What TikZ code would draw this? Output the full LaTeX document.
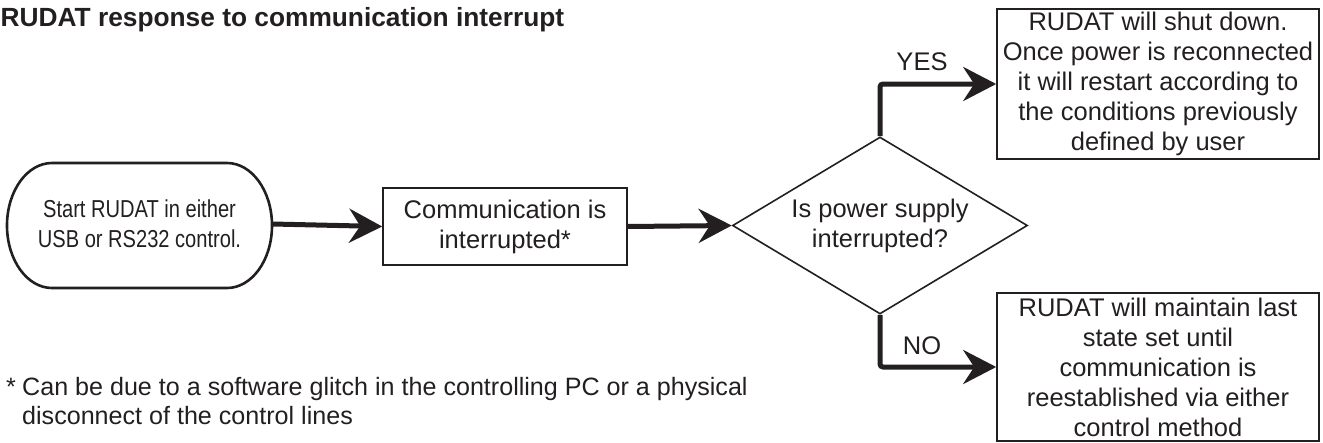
\documentclass[tikz,border=0pt]{standalone}
\usepackage{fontspec}
\setmainfont{Liberation Sans}
\newfontfamily\narrowfont[FakeStretch=0.82]{Liberation Sans}
\usetikzlibrary{arrows.meta,shapes.geometric}
\definecolor{ink}{RGB}{35,31,32}
\begin{document}
\begin{tikzpicture}[x=1pt,y=-1pt,
  txt/.style={font=\fontsize{25.5}{30}\selectfont, text=ink, align=center, inner sep=0pt},
  notetxt/.style={txt, font=\fontsize{25.1}{30}\selectfont},
  procbox/.style={draw=ink, line width=1.6pt, txt},
  flow/.style={draw=ink, line width=5pt, -{Stealth[length=33pt,width=34pt,inset=11pt]}, rounded corners=3pt},
]
\useasboundingbox (0,0) rectangle (1323,442);
% title
\node[font=\bfseries\fontsize{26.3}{30}\selectfont, text=ink, anchor=base west, inner sep=0pt] (title) at (0.5,26) {RUDAT response to communication interrupt};
% start terminal
\node[txt, font=\narrowfont\fontsize{24.5}{30}\selectfont, minimum width=265pt, minimum height=125pt] (start) at (139.5,224) {Start RUDAT in either\\USB or RS232 control.};
\draw[ink, line width=2.6pt] (52,163) -- (227,163)
  arc[start angle=-90, end angle=90, x radius=45, y radius=62.5]
  -- (52,288)
  arc[start angle=90, end angle=270, x radius=45, y radius=62.5] -- cycle;
% process
\node[procbox, minimum width=244pt, minimum height=77pt] (comm) at (505,226.5) {Communication is\\interrupted*};
% decision
\node[draw=ink, line width=1.6pt, shape=diamond, minimum width=295pt, minimum height=177pt, inner sep=0pt] (dec) at (880,225.5) {};
\node[txt] (dectext) at (dec.center) {Is power supply\\interrupted?};
% outcome boxes
\node[procbox, minimum width=322pt, minimum height=150pt] (yesbox) at (1158,84) {RUDAT will shut down.\\Once power is reconnected\\it will restart according to\\the conditions previously\\defined by user};
\node[procbox, minimum width=322pt, minimum height=148pt] (nobox) at (1158,367) {RUDAT will maintain last\\state set until\\communication is\\reestablished via either\\control method};
% labels
\node[txt] (yes) at (922,62) {YES};
\node[txt] (no) at (922,346) {NO};
% connectors
\draw[flow] (start.east) -- (comm.west);
\draw[flow] (comm.east) -- (dec.west);
\draw[flow] (dec.north) |- (yesbox.west);
\draw[flow] (dec.south) |- (nobox.west);
% footnote
\node[notetxt, anchor=base west] (star) at (6,395) {*};
\node[notetxt, anchor=base west] (note1) at (22,395) {Can be due to a software glitch in the controlling PC or a physical};
\node[notetxt, anchor=base west] (note2) at (22,424) {disconnect of the control lines};
\end{tikzpicture}
\end{document}
